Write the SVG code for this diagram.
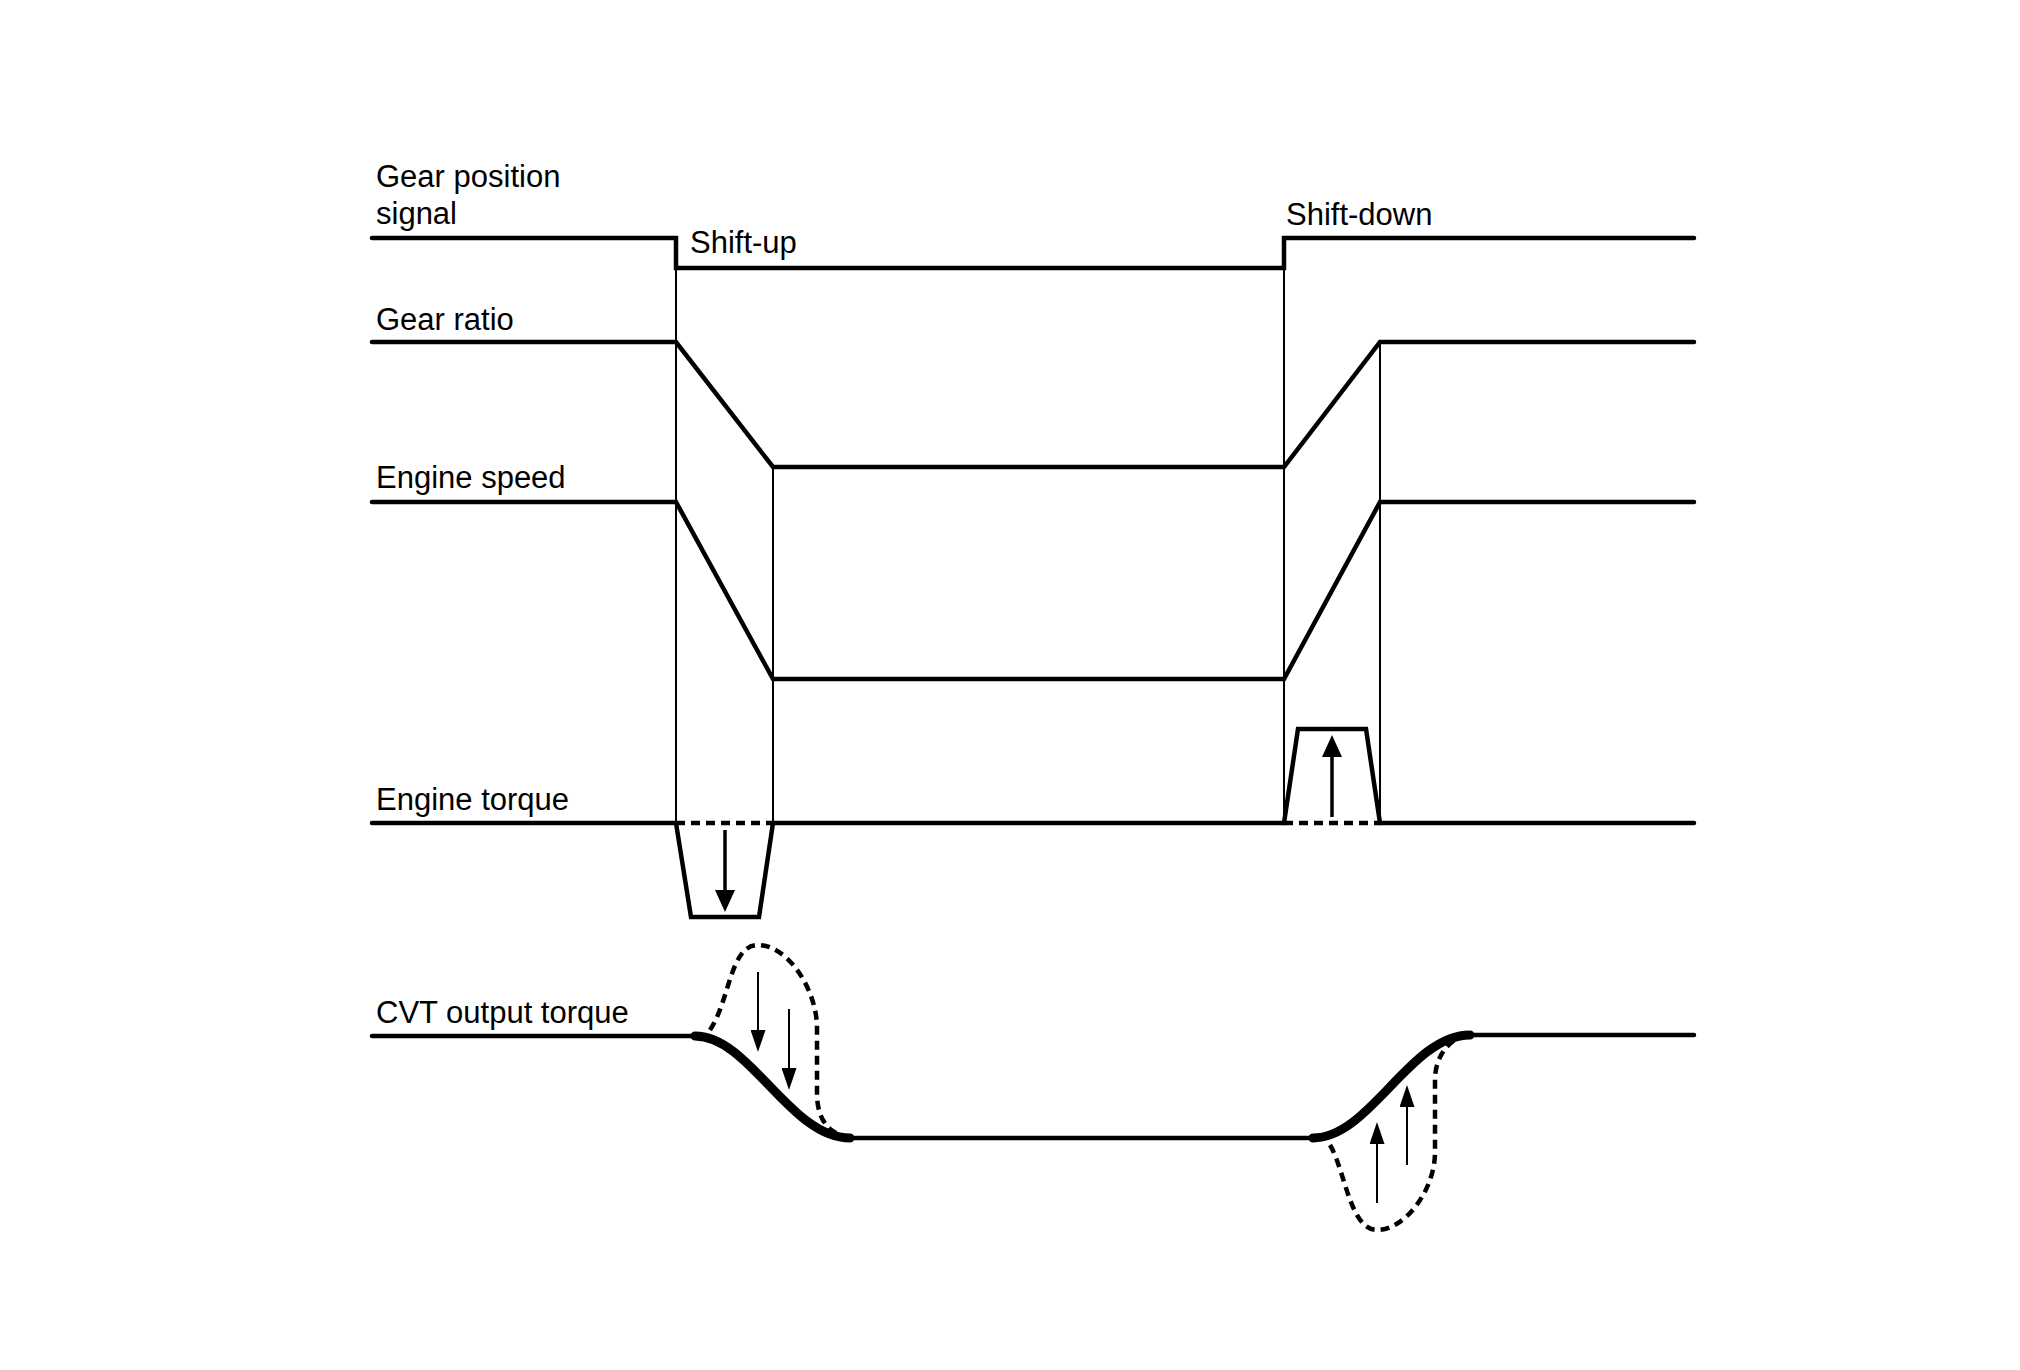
<svg xmlns="http://www.w3.org/2000/svg" width="2020" height="1370" viewBox="0 0 2020 1370">
<style>
  text { font-family: "Liberation Sans", Arial, sans-serif; font-size: 31px; fill: #000; }
  .sig { fill: none; stroke: #000; stroke-width: 4.5; stroke-linejoin: miter; stroke-linecap: round; }
  .thin { fill: none; stroke: #000; stroke-width: 2; }
  .dash { fill: none; stroke: #000; stroke-width: 4.5; stroke-dasharray: 9 6; }
  .thick { fill: none; stroke: #000; stroke-width: 9; stroke-linecap: round; }
  .arrB { stroke: #000; stroke-width: 3.5; marker-end: url(#ahB); }
  .arrS { stroke: #000; stroke-width: 2; marker-end: url(#ahS); }
</style>
<defs>
  <marker id="ahB" viewBox="0 0 22 20" markerWidth="22" markerHeight="20" refX="12" refY="10" orient="auto" markerUnits="userSpaceOnUse">
    <path d="M0,0 L22,10 L0,20 z" fill="#000"/>
  </marker>
  <marker id="ahS" viewBox="0 0 22 15" markerWidth="22" markerHeight="15" refX="12" refY="7.5" orient="auto" markerUnits="userSpaceOnUse">
    <path d="M0,0 L22,7.5 L0,15 z" fill="#000"/>
  </marker>
</defs>
<rect width="2020" height="1370" fill="#fff"/>

<g id="labels">
  <text x="376" y="187">Gear position</text>
  <text x="376" y="224">signal</text>
  <text x="376" y="330">Gear ratio</text>
  <text x="376" y="488">Engine speed</text>
  <text x="376" y="810">Engine torque</text>
  <text x="376" y="1023">CVT output torque</text>
  <text x="690" y="253">Shift-up</text>
  <text x="1286" y="225">Shift-down</text>
</g>

<g id="guides">
  <line class="thin" x1="676" y1="268" x2="676" y2="823"/>
  <line class="thin" x1="773" y1="467" x2="773" y2="823"/>
  <line class="thin" x1="1284" y1="268" x2="1284" y2="823"/>
  <line class="thin" x1="1380" y1="342" x2="1380" y2="823"/>
</g>

<g id="gear-position-signal">
  <path class="sig" d="M372,238 H676 V268 H1284 V238 H1694"/>
</g>

<g id="gear-ratio">
  <path class="sig" d="M372,342 H676 L773,467 H1284 L1380,342 H1694"/>
</g>

<g id="engine-speed">
  <path class="sig" d="M372,502 H676 L773,679 H1284 L1380,502 H1694"/>
</g>

<g id="engine-torque">
  <path class="sig" d="M372,823 H676 M773,823 H1284 M1380,823 H1694"/>
  <path class="dash" d="M676,823 H773 M1284,823 H1380"/>
  <path class="sig" d="M676,823 L691,917 H759 L773,823"/>
  <path class="sig" d="M1284,823 L1298,729 H1366 L1380,823"/>
  <line class="arrB" x1="725" y1="830" x2="725" y2="902"/>
  <line class="arrB" x1="1332" y1="817" x2="1332" y2="745"/>
</g>

<g id="cvt-output-torque">
  <path class="sig" d="M372,1036 H695 M850,1138 H1313 M1470,1035 H1694"/>
  <path class="thick" d="M695,1036 C750,1036 790,1138 850,1138"/>
  <path class="thick" d="M1313,1138 C1370,1138 1410,1035 1470,1035"/>
  <path class="dash" d="M710,1030 C730,1000 730,945 758,945 C788,945 817,990 817,1028 L817,1093 C817,1115 825,1128 838,1134"/>
  <path class="dash" d="M1330,1145 C1345,1170 1350,1230 1377,1230 C1405,1230 1435,1190 1435,1152 L1435,1080 C1435,1060 1445,1046 1455,1040"/>
  <line class="arrS" x1="758" y1="972" x2="758" y2="1042"/>
  <line class="arrS" x1="789" y1="1009" x2="789" y2="1080"/>
  <line class="arrS" x1="1377" y1="1203" x2="1377" y2="1132"/>
  <line class="arrS" x1="1407" y1="1165" x2="1407" y2="1095"/>
</g>
</svg>
